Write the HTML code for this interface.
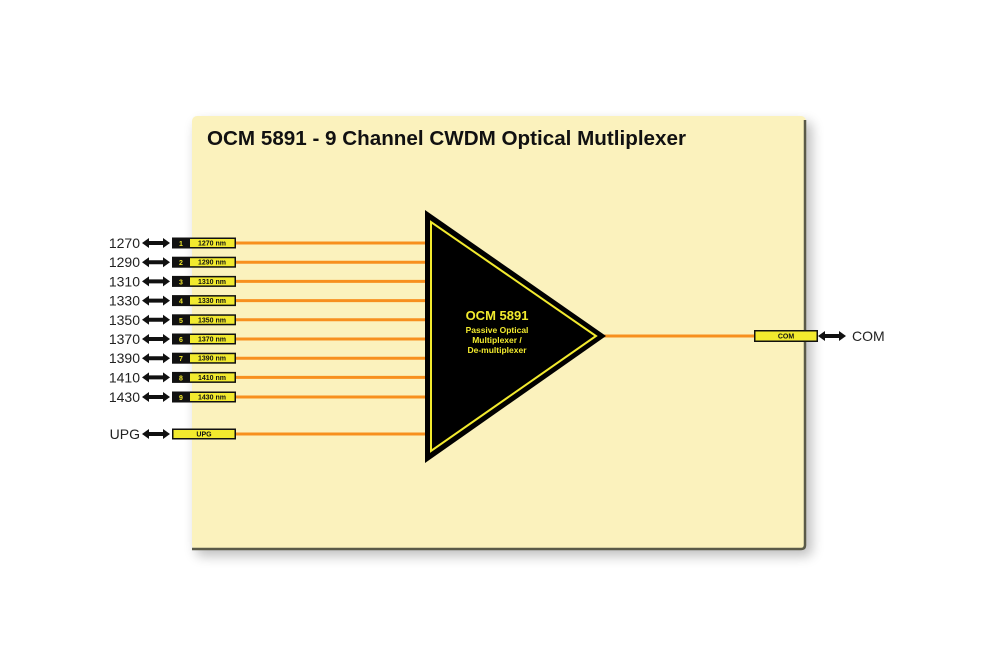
<!DOCTYPE html>
<html><head><meta charset="utf-8"><style>
html,body{margin:0;padding:0;background:#fff;}
svg{display:block;}
</style></head><body>
<svg width="1000" height="666" viewBox="0 0 1000 666" xmlns="http://www.w3.org/2000/svg" font-family="Liberation Sans, sans-serif">
<defs>
<filter id="sh" x="-10%" y="-10%" width="120%" height="130%"><feGaussianBlur stdDeviation="6"/></filter>
<g id="arr"><path d="M0,0 L7,-5 L7,-2 L21,-2 L21,-5 L28,0 L21,5 L21,2 L7,2 L7,5 Z" fill="#111"/></g>
</defs>
<rect x="196" y="122" width="616" height="434" rx="6" fill="#000" opacity="0.25" filter="url(#sh)"/>
<rect x="192" y="116" width="614" height="434" rx="5" fill="#fbf2bd" stroke="#5a5a48" stroke-width="0"/>
<path d="M805,120 L805,545 Q805,549 801,549 L192,549" fill="none" stroke="#5a5a48" stroke-width="2.5"/>
<text x="207" y="145" font-size="20" font-weight="bold" fill="#111" textLength="479" lengthAdjust="spacingAndGlyphs">OCM 5891 - 9 Channel CWDM Optical Mutliplexer</text>
<g stroke="#f7901e" stroke-width="3">
<line x1="236" y1="243" x2="428" y2="243"/>
<line x1="236" y1="262.2" x2="428" y2="262.2"/>
<line x1="236" y1="281.4" x2="428" y2="281.4"/>
<line x1="236" y1="300.6" x2="428" y2="300.6"/>
<line x1="236" y1="319.8" x2="428" y2="319.8"/>
<line x1="236" y1="339" x2="428" y2="339"/>
<line x1="236" y1="358.2" x2="428" y2="358.2"/>
<line x1="236" y1="377.4" x2="428" y2="377.4"/>
<line x1="236" y1="397" x2="428" y2="397"/>
<line x1="236" y1="434" x2="428" y2="434"/>
<line x1="600" y1="336" x2="756" y2="336"/>
</g>
<polygon points="425,210 425,463 606,336" fill="#000"/>
<polygon points="431,222 431,451 596,336" fill="none" stroke="#f2ea2e" stroke-width="2"/>
<g fill="#f2ea2e" font-weight="bold" text-anchor="middle">
<text x="497" y="320" font-size="13">OCM 5891</text>
<text x="497" y="333" font-size="8.5">Passive Optical</text>
<text x="497" y="343" font-size="8.5">Multiplexer /</text>
<text x="497" y="353" font-size="8.5">De-multiplexer</text>
</g>
<g font-size="14" fill="#222" text-anchor="end">
<text x="140" y="248">1270</text><text x="140" y="267.2">1290</text><text x="140" y="286.4">1310</text>
<text x="140" y="305.6">1330</text><text x="140" y="324.8">1350</text><text x="140" y="344">1370</text>
<text x="140" y="363.2">1390</text><text x="140" y="382.4">1410</text><text x="140" y="402">1430</text>
<text x="140" y="439">UPG</text>
</g>
<g>
<use href="#arr" x="142" y="243"/><use href="#arr" x="142" y="262.2"/><use href="#arr" x="142" y="281.4"/>
<use href="#arr" x="142" y="300.6"/><use href="#arr" x="142" y="319.8"/><use href="#arr" x="142" y="339"/>
<use href="#arr" x="142" y="358.2"/><use href="#arr" x="142" y="377.4"/><use href="#arr" x="142" y="397"/>
<use href="#arr" x="142" y="434"/><use href="#arr" x="818" y="336"/>
</g>
<g font-size="7" font-weight="bold">
<g transform="translate(0,243)"><rect x="172" y="-5.5" width="64" height="11" fill="#111"/><rect x="190" y="-4" width="44.5" height="8" fill="#f2ea2e"/><text x="181" y="3" fill="#f2ea2e" text-anchor="middle">1</text><text x="212" y="2.5" fill="#111" text-anchor="middle">1270 nm</text></g>
<g transform="translate(0,262.2)"><rect x="172" y="-5.5" width="64" height="11" fill="#111"/><rect x="190" y="-4" width="44.5" height="8" fill="#f2ea2e"/><text x="181" y="3" fill="#f2ea2e" text-anchor="middle">2</text><text x="212" y="2.5" fill="#111" text-anchor="middle">1290 nm</text></g>
<g transform="translate(0,281.4)"><rect x="172" y="-5.5" width="64" height="11" fill="#111"/><rect x="190" y="-4" width="44.5" height="8" fill="#f2ea2e"/><text x="181" y="3" fill="#f2ea2e" text-anchor="middle">3</text><text x="212" y="2.5" fill="#111" text-anchor="middle">1310 nm</text></g>
<g transform="translate(0,300.6)"><rect x="172" y="-5.5" width="64" height="11" fill="#111"/><rect x="190" y="-4" width="44.5" height="8" fill="#f2ea2e"/><text x="181" y="3" fill="#f2ea2e" text-anchor="middle">4</text><text x="212" y="2.5" fill="#111" text-anchor="middle">1330 nm</text></g>
<g transform="translate(0,319.8)"><rect x="172" y="-5.5" width="64" height="11" fill="#111"/><rect x="190" y="-4" width="44.5" height="8" fill="#f2ea2e"/><text x="181" y="3" fill="#f2ea2e" text-anchor="middle">5</text><text x="212" y="2.5" fill="#111" text-anchor="middle">1350 nm</text></g>
<g transform="translate(0,339)"><rect x="172" y="-5.5" width="64" height="11" fill="#111"/><rect x="190" y="-4" width="44.5" height="8" fill="#f2ea2e"/><text x="181" y="3" fill="#f2ea2e" text-anchor="middle">6</text><text x="212" y="2.5" fill="#111" text-anchor="middle">1370 nm</text></g>
<g transform="translate(0,358.2)"><rect x="172" y="-5.5" width="64" height="11" fill="#111"/><rect x="190" y="-4" width="44.5" height="8" fill="#f2ea2e"/><text x="181" y="3" fill="#f2ea2e" text-anchor="middle">7</text><text x="212" y="2.5" fill="#111" text-anchor="middle">1390 nm</text></g>
<g transform="translate(0,377.4)"><rect x="172" y="-5.5" width="64" height="11" fill="#111"/><rect x="190" y="-4" width="44.5" height="8" fill="#f2ea2e"/><text x="181" y="3" fill="#f2ea2e" text-anchor="middle">8</text><text x="212" y="2.5" fill="#111" text-anchor="middle">1410 nm</text></g>
<g transform="translate(0,397)"><rect x="172" y="-5.5" width="64" height="11" fill="#111"/><rect x="190" y="-4" width="44.5" height="8" fill="#f2ea2e"/><text x="181" y="3" fill="#f2ea2e" text-anchor="middle">9</text><text x="212" y="2.5" fill="#111" text-anchor="middle">1430 nm</text></g>
<g transform="translate(0,434)"><rect x="172" y="-5.5" width="64" height="11" fill="#111"/><rect x="173.5" y="-4" width="61" height="8" fill="#f2ea2e"/><text x="204" y="2.5" fill="#111" text-anchor="middle">UPG</text></g>
<g transform="translate(0,336)"><rect x="754" y="-6" width="64" height="12" fill="#111"/><rect x="755.5" y="-4.5" width="61" height="9" fill="#f2ea2e"/><text x="786" y="2.5" fill="#111" text-anchor="middle">COM</text></g>
</g>
<text x="852" y="341" font-size="14" fill="#222">COM</text>
</svg>
</body></html>
